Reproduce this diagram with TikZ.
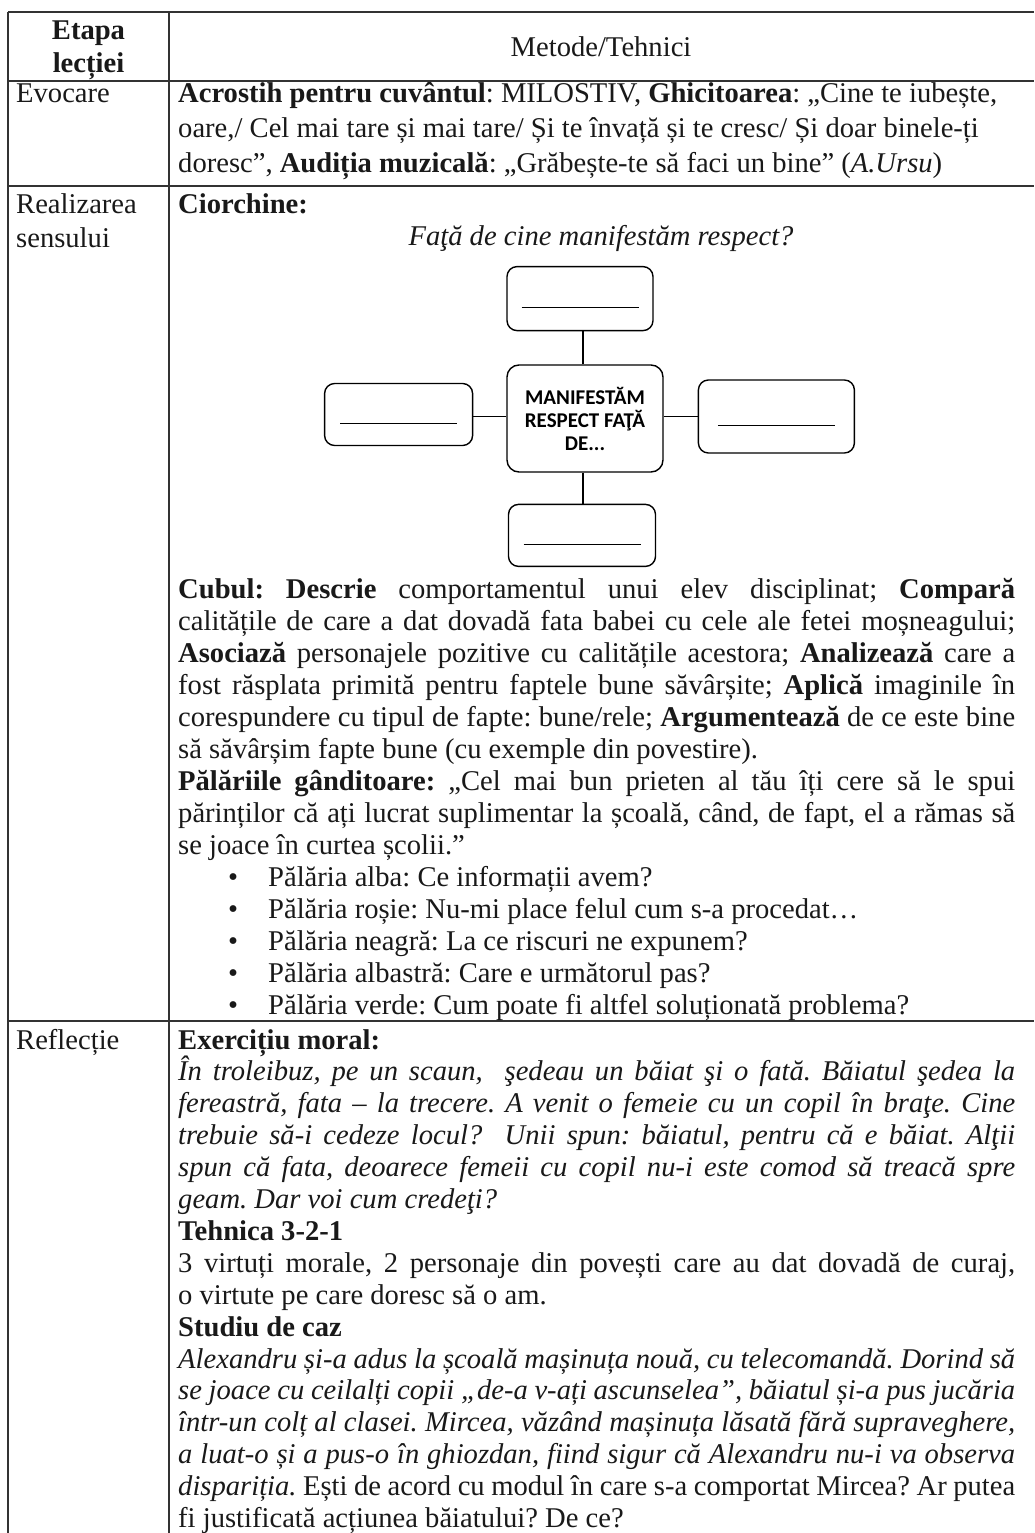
\documentclass[tikz,border=0pt]{standalone}
\usepackage{fontspec}
\setmainfont{Liberation Serif}
\newfontfamily\boxfont{Carlito}
\usetikzlibrary{positioning}
\frenchspacing
\hyphenpenalty=10000
\exhyphenpenalty=10000
\tolerance=10000

\tikzset{
  rule/.style={line width=1.2pt, black!80},
  txt/.style={inner sep=0pt, anchor=base west, text=black!90, font=\fontsize{28.6}{32}\selectfont},
  cell/.style={txt, text width=837pt, align=justify},
  blank/.style={draw, rounded corners=10pt, line width=1.4pt, minimum width=147pt, minimum height=63pt,
    path picture={\draw[line width=1pt] ([xshift=-58.5pt,yshift=-9pt]path picture bounding box.center) -- ++(117pt,0pt);}},
  hubbox/.style={draw, rounded corners=12pt, line width=1.4pt, minimum width=156pt, minimum height=107pt,
    align=center, inner sep=0pt, font=\boxfont\bfseries\fontsize{21}{23}\selectfont},
  link/.style={line width=1.4pt}
}

\begin{document}
\begin{tikzpicture}[x=1pt,y=-1pt]
  \useasboundingbox (0,0) rectangle (1034,1533);
  \fill[white] (0,0) rectangle (1034,1533);

  \draw[rule] (8,12) -- (1034,12);
  \draw[rule] (8,81) -- (1034,81);
  \draw[rule] (8,186) -- (1034,186);
  \draw[rule] (8,1021) -- (1034,1021);
  \draw[rule] (8,12) -- (8,1533);
  \draw[rule] (169,12) -- (169,1533);

  \node[txt, anchor=base, text width=150pt, align=center, font=\bfseries\fontsize{28.6}{33}\selectfont] (stage) at (88.5,40) {Etapa\\lecției};
  \node[txt, anchor=base] (methods) at (601,57) {Metode/Tehnici};

  \node[txt] (evoc) at (16,103) {Evocare};
  \node[cell, font=\fontsize{28.6}{35}\selectfont] (evoctext) at (178,103)
    {\textbf{Acrostih pentru cuvântul}: MILOSTIV, \textbf{Ghicitoarea}: „Cine te iubește,\par
     oare,/ Cel mai tare și mai tare/ Și te învață și te cresc/ Și doar binele-ți\par
     doresc”, \textbf{Audiția muzicală}: „Grăbește-te să faci un bine” (\textit{A.Ursu})};

  \node[txt, text width=150pt, align=left, font=\fontsize{28.6}{35}\selectfont] (real) at (16,213) {Realizarea\\sensului};
  \node[txt, font=\bfseries\fontsize{28.6}{32}\selectfont] (ciorch) at (178,213) {Ciorchine:};
  \node[txt, anchor=base, font=\itshape\fontsize{28.6}{32}\selectfont] (question) at (601,245) {Faţă de cine manifestăm respect?};

  \node[hubbox] (hub) at (585,418.5) {MANIFESTĂM\\RESPECT FAŢĂ\\DE...};
  \node[blank, minimum width=146pt, minimum height=64pt, above=33pt of hub, xshift=-5pt] (up) {};
  \node[blank, minimum width=148pt, minimum height=62pt, left=33pt of hub, yshift=4pt] (west) {};
  \node[blank, minimum width=156pt, minimum height=73pt, right=34pt of hub, yshift=2pt] (east) {};
  \node[blank, minimum width=147pt, minimum height=62pt, below=31pt of hub, xshift=-3pt] (down) {};
  \draw[link] ([xshift=-2pt]hub.north) -- ([xshift=-2pt]hub.north |- up.south);
  \draw[link] ([xshift=-2pt]hub.south) -- ([xshift=-2pt]hub.south |- down.north);
  \draw[link] ([yshift=2pt]hub.west) -- ([yshift=2pt]hub.west -| west.east);
  \draw[link] ([yshift=2pt]hub.east) -- ([yshift=2pt]hub.east -| east.west);

  \node[cell] (cube) at (178,598)
    {\textbf{Cubul: Descrie} comportamentul unui elev disciplinat; \textbf{Compară}\linebreak
     calitățile de care a dat dovadă fata babei cu cele ale fetei moșneagului;\linebreak
     \textbf{Asociază} personajele pozitive cu calitățile acestora; \textbf{Analizează} care a\linebreak
     fost răsplata primită pentru faptele bune săvârșite; \textbf{Aplică} imaginile în\linebreak
     corespundere cu tipul de fapte: bune/rele; \textbf{Argumentează} de ce este bine\linebreak
     să săvârșim fapte bune (cu exemple din povestire).\par
     \textbf{Pălăriile gânditoare:} „Cel mai bun prieten al tău îți cere să le spui\linebreak
     părinților că ați lucrat suplimentar la școală, când, de fapt, el a rămas să\linebreak
     se joace în curtea școlii.”\par
     \hspace*{50pt}\makebox[40pt][l]{•}Pălăria alba: Ce informații avem?\par
     \hspace*{50pt}\makebox[40pt][l]{•}Pălăria roșie: Nu-mi place felul cum s-a procedat…\par
     \hspace*{50pt}\makebox[40pt][l]{•}Pălăria neagră: La ce riscuri ne expunem?\par
     \hspace*{50pt}\makebox[40pt][l]{•}Pălăria albastră: Care e următorul pas?\par
     \hspace*{50pt}\makebox[40pt][l]{•}Pălăria verde: Cum poate fi altfel soluționată problema?};

  \node[txt] (refl) at (16,1049) {Reflecție};
  \node[cell, font=\fontsize{28.6}{31.9}\selectfont] (refltext) at (178,1049)
    {\textbf{Exercițiu moral:}\par
     \textit{În troleibuz, pe un scaun,\ \ şedeau un băiat şi o fată. Băiatul şedea la\linebreak
     fereastră, fata – la trecere. A venit o femeie cu un copil în braţe. Cine\linebreak
     trebuie să-i cedeze locul?\ \ Unii spun: băiatul, pentru că e băiat. Alţii\linebreak
     spun că fata, deoarece femeii cu copil nu-i este comod să treacă spre\linebreak
     geam. Dar voi cum credeţi?}\par
     \textbf{Tehnica 3-2-1}\par
     3 virtuți morale, 2 personaje din povești care au dat dovadă de curaj,\linebreak
     o virtute pe care doresc să o am.\par
     \textbf{Studiu de caz}\par
     \textit{Alexandru și-a adus la școală mașinuța nouă, cu telecomandă. Dorind să\linebreak
     se joace cu ceilalți copii „de-a v-ați ascunselea”, băiatul și-a pus jucăria\linebreak
     într-un colț al clasei. Mircea, văzând mașinuța lăsată fără supraveghere,\linebreak
     a luat-o și a pus-o în ghiozdan, fiind sigur că Alexandru nu-i va observa\linebreak
     dispariția.} Ești de acord cu modul în care s-a comportat Mircea? Ar putea\linebreak
     fi justificată acțiunea băiatului? De ce?};
\end{tikzpicture}
\end{document}
